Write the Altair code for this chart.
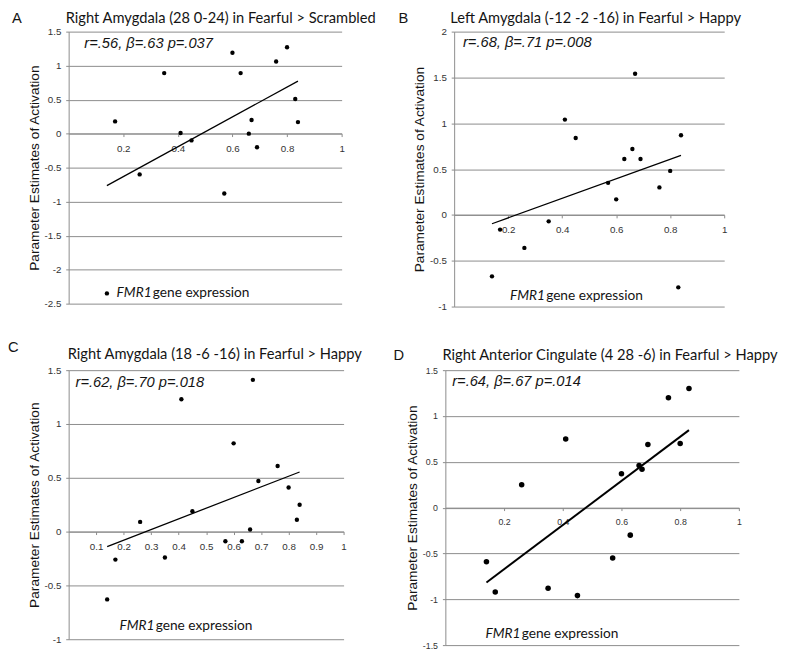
import altair as alt
import pandas as pd

# ---------------- data ----------------
X_EXPR = [0.14, 0.17, 0.26, 0.35, 0.41, 0.45, 0.57, 0.60, 0.63, 0.66, 0.67, 0.69, 0.76, 0.80, 0.83, 0.84]
A_Y = [-2.35, 0.18, -0.60, 0.89, 0.01, -0.10, -0.88, 1.19, 0.89, 0.00, 0.20, -0.20, 1.06, 1.27, 0.51, 0.17]
B_Y = [-0.67, -0.16, -0.36, -0.07, 1.04, 0.84, 0.35, 0.17, 0.61, 0.72, 1.54, 0.61, 0.30, 0.48, -0.79, 0.87]
C_Y = [-0.63, -0.26, 0.09, -0.24, 1.23, 0.19, -0.09, 0.82, -0.09, 0.02, 1.41, 0.47, 0.61, 0.41, 0.11, 0.25]
D_X = [0.14, 0.17, 0.26, 0.35, 0.41, 0.45, 0.57, 0.60, 0.63, 0.66, 0.67, 0.69, 0.76, 0.80, 0.83]
D_Y = [-0.59, -0.92, 0.25, -0.88, 0.75, -0.96, -0.55, 0.37, -0.30, 0.46, 0.42, 0.69, 1.20, 0.70, 1.30]

A_YTICKS = [-2.5, -2.0, -1.5, -1.0, -0.5, 0.0, 0.5, 1.0, 1.5]
B_YTICKS = [-1.0, -0.5, 0.0, 0.5, 1.0, 1.5, 2.0]
C_YTICKS = [-1.0, -0.5, 0.0, 0.5, 1.0, 1.5]
D_YTICKS = [-1.5, -1.0, -0.5, 0.0, 0.5, 1.0, 1.5]
X_TICKS_02 = [0.2, 0.4, 0.6, 0.8, 1.0]
X_TICKS_01 = [0.1, 0.2, 0.3, 0.4, 0.5, 0.6, 0.7, 0.8, 0.9, 1.0]

LETTERS = ["A", "B", "C", "D"]
TITLES = [
    "Right Amygdala (28 0-24) in Fearful > Scrambled",
    "Left Amygdala (-12 -2 -16) in Fearful > Happy",
    "Right Amygdala (18 -6 -16) in Fearful > Happy",
    "Right Anterior Cingulate (4 28 -6) in Fearful > Happy",
]
STATS = [
    "r=.56, β=.63 p=.037",
    "r=.68, β=.71 p=.008",
    "r=.62, β=.70 p=.018",
    "r=.64, β=.67 p=.014",
]
Y_TITLE = "Parameter Estimates of Activation"
X_NOTE_ITALIC = "FMR1"
X_NOTE_REST = "gene expression"

GRID = "#8a8a8a"
INK = "#141414"


def txt(text, x, y, font, size, style="normal"):
    return alt.Chart(pd.DataFrame({"t": [text]})).mark_text(
        align="left", baseline="alphabetic", font=font, fontSize=size,
        fontStyle=style, color=INK
    ).encode(x=alt.value(x), y=alt.value(y), text="t:N")


def panel(xs, ys, yticks, xticks, width, height, idx, geo, dot_size, line_w, lab_size):
    df = pd.DataFrame({"x": xs, "y": ys})
    ydom = [yticks[0], yticks[-1]]
    zero_off = -height * (0 - ydom[0]) / (ydom[1] - ydom[0])
    x_enc = alt.X(
        "x:Q",
        scale=alt.Scale(domain=[0, 1], nice=False, zero=False),
        axis=alt.Axis(
            values=xticks, tickCount=len(xticks) + 2, offset=zero_off, grid=False, title=None,
            labelExpr="'' + datum.value", labelFlush=False, labelOverlap=False,
            domainColor=GRID, tickColor=GRID, tickSize=3, labelPadding=7,
            labelFontSize=lab_size, labelColor="#333333", labelFont="Liberation Sans",
        ),
    )
    y_enc = alt.Y(
        "y:Q",
        scale=alt.Scale(domain=ydom, nice=False, zero=False),
        axis=alt.Axis(
            values=yticks, tickCount=len(yticks) + 2, grid=True, gridColor=GRID,
            gridOpacity=1, gridWidth=1,
            labelExpr="'' + datum.value", labelFlush=False, labelOverlap=False,
            domainColor=GRID, tickColor=GRID, tickSize=3, labelPadding=5,
            labelFontSize=lab_size, labelColor="#333333", labelFont="Liberation Sans",
            title=Y_TITLE, titleFont="Liberation Sans", titleFontSize=14,
            titleFontWeight="normal", titleColor=INK, titlePadding=3,
        ),
    )
    base = alt.Chart(df)
    pts = base.mark_circle(size=dot_size, color="black", opacity=1).encode(x=x_enc, y=y_enc)
    fit = base.transform_regression("x", "y").mark_line(
        color="black", strokeWidth=line_w
    ).encode(x="x:Q", y="y:Q")
    (lx, ly), (tx, ty), (sx, sy), (fx, fy) = geo
    layers = [
        pts,
        fit,
        txt(LETTERS[idx], lx, ly, "Liberation Sans", 15),
        txt(TITLES[idx], tx, ty, "Lato", 15),
        txt(STATS[idx], sx, sy, "Liberation Sans", 15, "italic"),
        txt(X_NOTE_ITALIC, fx, fy, "Lato", 14, "italic"),
        txt(X_NOTE_REST, fx + 37, fy, "Lato", 14),
    ]
    return alt.layer(*layers).properties(width=width, height=height)


pA = panel(X_EXPR, A_Y, A_YTICKS, X_TICKS_02, 279, 278, 0,
           [(-58, -9), (-3, -9), (16, 17), (49, 271)], 20, 1.3, 10)
pB = panel(X_EXPR, B_Y, B_YTICKS, X_TICKS_02, 276, 281, 1,
           [(-57, -9), (-4, -9), (9, 16), (57, 274)], 20, 1.3, 10)
pC = panel(X_EXPR, C_Y, C_YTICKS, X_TICKS_01, 281, 275, 2,
           [(-62, -19), (-1, -11), (7, 17), (52, 266)], 20, 1.3, 10)
pD = panel(D_X, D_Y, D_YTICKS, X_TICKS_02, 300, 281, 3,
           [(-53, -10), (-3, -10), (7, 16), (41, 274)], 32, 2, 9)

row1 = alt.hconcat(pA, pB, spacing=115, bounds="flush")
row2 = alt.hconcat(pC, pD, spacing=104, bounds="flush")
chart = alt.vconcat(row1, row2, spacing=29).properties(
    padding={"left": 0, "top": -4, "right": 0, "bottom": 0},
).configure_view(stroke=None)

chart.save("out.html", embed_options={"renderer": "svg", "actions": False})
